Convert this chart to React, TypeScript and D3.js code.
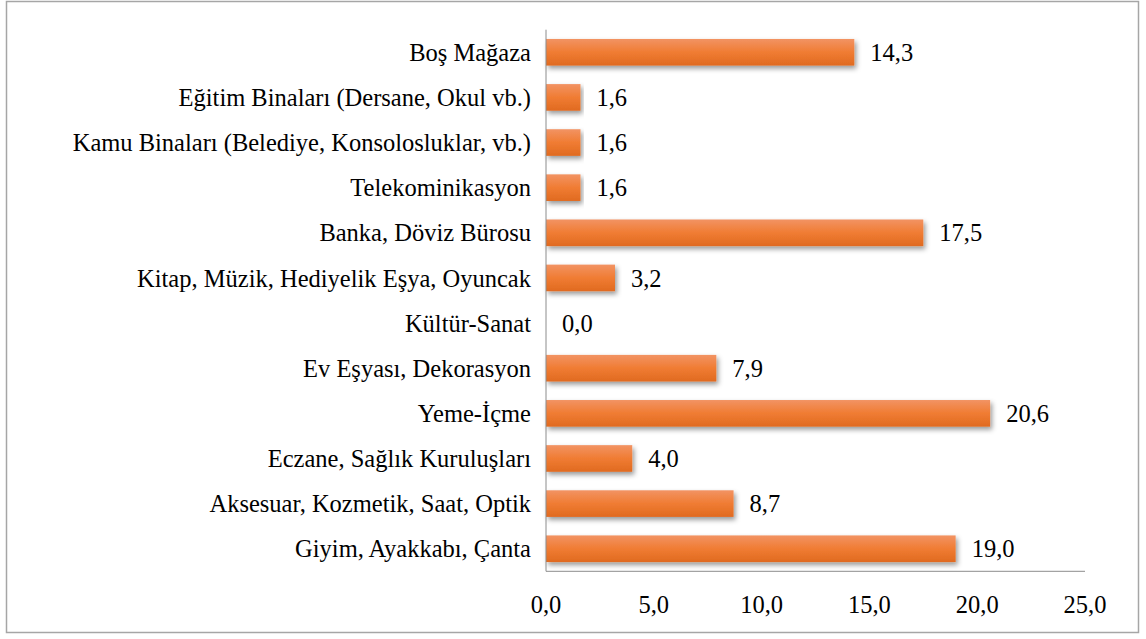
import React, { useEffect, useRef } from 'react'
import * as d3 from 'd3'

const categories = [
  'Boş Mağaza',
  'Eğitim Binaları (Dersane, Okul vb.)',
  'Kamu Binaları (Belediye, Konsolosluklar, vb.)',
  'Telekominikasyon',
  'Banka, Döviz Bürosu',
  'Kitap, Müzik, Hediyelik Eşya, Oyuncak',
  'Kültür-Sanat',
  'Ev Eşyası, Dekorasyon',
  'Yeme-İçme',
  'Eczane, Sağlık Kuruluşları',
  'Aksesuar, Kozmetik, Saat, Optik',
  'Giyim, Ayakkabı, Çanta',
]
const values = [14.3, 1.6, 1.6, 1.6, 17.5, 3.2, 0.0, 7.9, 20.6, 4.0, 8.7, 19.0]
const ticks = [0, 5, 10, 15, 20, 25]

const fmt = (v: number) => v.toFixed(1).replace('.', ',')

const App = () => {
  const svgRef = useRef<SVGSVGElement>(null)

  useEffect(() => {
    const width = 1146
    const height = 639
    const left = 546
    const right = 1085
    const top = 29.7
    const bottom = 571.3
    const font = "'Liberation Serif', 'DejaVu Serif', serif"

    const svg = d3.select(svgRef.current)
    svg.selectAll('*').remove()
    svg.attr('width', width).attr('height', height)

    const defs = svg.append('defs')
    const grad = defs.append('linearGradient')
      .attr('id', 'barGrad')
      .attr('x1', 0).attr('y1', 0).attr('x2', 0).attr('y2', 1)
    grad.append('stop').attr('offset', '0%').attr('stop-color', '#f29363')
    grad.append('stop').attr('offset', '50%').attr('stop-color', '#f07c33')
    grad.append('stop').attr('offset', '100%').attr('stop-color', '#e06a20')

    const filter = defs.append('filter').attr('id', 'shadow')
      .attr('x', '-5%').attr('y', '-20%').attr('width', '115%').attr('height', '160%')
    filter.append('feDropShadow')
      .attr('dx', 2).attr('dy', 3).attr('stdDeviation', 2.5)
      .attr('flood-color', '#000').attr('flood-opacity', 0.4)

    svg.append('rect')
      .attr('x', 6.5).attr('y', 1.5)
      .attr('width', 1132).attr('height', 631)
      .attr('fill', '#fff')
      .attr('stroke', '#a6a6a6').attr('stroke-width', 1.5)

    const xScale = d3.scaleLinear().domain([0, 25]).range([left, right])
    const yScale = d3.scaleBand<string>()
      .domain(categories)
      .range([top, bottom])
      .paddingInner(0.41)
      .paddingOuter(0.205)

    // bars
    svg.append('g')
      .selectAll('rect')
      .data(values)
      .join('rect')
      .attr('x', xScale(0))
      .attr('y', (d, i) => yScale(categories[i])!)
      .attr('width', (d) => xScale(d) - xScale(0))
      .attr('height', yScale.bandwidth())
      .attr('fill', 'url(#barGrad)')
      .attr('filter', 'url(#shadow)')
      .style('display', (d) => (d > 0 ? null : 'none'))

    // axes lines
    svg.append('line')
      .attr('x1', left).attr('x2', left)
      .attr('y1', top).attr('y2', bottom)
      .attr('stroke', '#8c8c8c').attr('stroke-width', 1)
    svg.append('line')
      .attr('x1', left).attr('x2', right)
      .attr('y1', bottom).attr('y2', bottom)
      .attr('stroke', '#8c8c8c').attr('stroke-width', 1)

    const txt = svg.append('g')
      .attr('font-family', font)
      .attr('font-size', 24.5)
      .attr('fill', '#000')

    // category labels
    txt.append('g')
      .selectAll('text')
      .data(categories)
      .join('text')
      .attr('x', left - 15)
      .attr('y', (d) => yScale(d)! + yScale.bandwidth() / 2)
      .attr('dy', '0.35em')
      .attr('text-anchor', 'end')
      .text((d) => d)

    // value labels
    txt.append('g')
      .selectAll('text')
      .data(values)
      .join('text')
      .attr('x', (d) => xScale(d) + 16)
      .attr('y', (d, i) => yScale(categories[i])! + yScale.bandwidth() / 2)
      .attr('dy', '0.35em')
      .text((d) => fmt(d))

    // tick labels
    txt.append('g')
      .selectAll('text')
      .data(ticks)
      .join('text')
      .attr('x', (d) => xScale(d))
      .attr('y', 604)
      .attr('dy', '0.35em')
      .attr('text-anchor', 'middle')
      .text((d) => fmt(d))
  }, [])

  return (
    <div style={{ position: 'absolute', left: 0, top: 0 }}>
      <svg ref={svgRef} style={{ display: 'block' }}></svg>
    </div>
  )
}

export default App
